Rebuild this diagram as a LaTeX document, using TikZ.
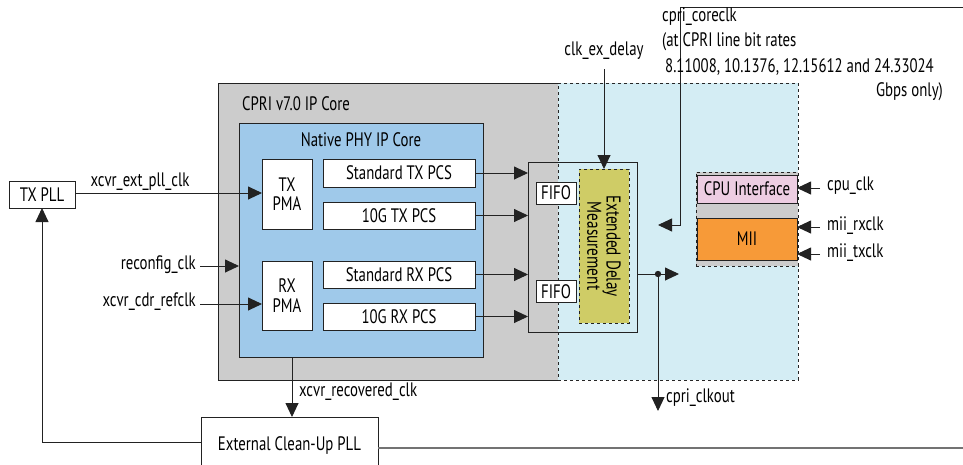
\documentclass[tikz,border=0pt]{standalone}
\usepackage{fontspec}
\setmainfont{PT Sans}[FakeStretch=0.76]
\usetikzlibrary{arrows.meta}
\definecolor{coregray}{HTML}{CCCCCC}
\definecolor{phyblue}{HTML}{9FC9EA}
\definecolor{lightblue}{HTML}{D4EDF4}
\definecolor{edmyellow}{HTML}{CFCC66}
\definecolor{cpupink}{HTML}{EDCDE2}
\definecolor{miiorange}{HTML}{F79A38}
\definecolor{linec}{HTML}{222222}
\begin{document}
\begin{tikzpicture}[x=1pt,y=-1pt,
  font=\fontsize{19.5}{19.5}\selectfont,
  box/.style={draw=linec, line width=0.9pt, inner sep=0pt, outer sep=0pt, align=center},
  lbl/.style={inner sep=1pt},
  arr/.style={-{Triangle[length=14pt,width=13pt]}, line width=0.9pt, draw=linec},
  ln/.style={line width=0.9pt, draw=linec}]
\useasboundingbox (0,0) rectangle (963,464);
% containers
\node[box, fill=coregray, minimum width=340, minimum height=297] (core) at (388,231.5) {};
\node[box, fill=lightblue, dashed, draw=black!85, minimum width=240, minimum height=297] (dom) at (678,231.5) {};
\node[anchor=west, lbl] (coret) at (241,104) {CPRI v7.0 IP Core};
\node[box, fill=phyblue, minimum width=244, minimum height=234] (phy) at (361,240) {};
\node[lbl] (phyt) at (361,140) {Native PHY IP Core};
% PMA and PCS
\node[box, fill=white, minimum width=50, minimum height=70] (txpma) at (287,194) {TX\\PMA};
\node[box, fill=white, minimum width=50, minimum height=69] (rxpma) at (287,295.5) {RX\\PMA};
\node[box, fill=white, minimum width=152, minimum height=28] (stdtx) at (399,173) {Standard TX PCS};
\node[box, fill=white, minimum width=152, minimum height=27] (tentx) at (399,215.5) {10G TX PCS};
\node[box, fill=white, minimum width=152, minimum height=27] (stdrx) at (399,274.5) {Standard RX PCS};
\node[box, fill=white, minimum width=152, minimum height=27] (tenrx) at (399,316.5) {10G RX PCS};
% FIFO / delay block
\node[box, minimum width=109, minimum height=170] (fifobox) at (582.5,247) {};
\node[box, fill=white, minimum width=40, minimum height=22] (fifoa) at (556,193) {FIFO};
\node[box, fill=white, minimum width=40, minimum height=22] (fifob) at (556,291.5) {FIFO};
\node[box, fill=edmyellow, dashed, minimum width=50, minimum height=154] (edm) at (604,246) {};
\node[rotate=-90, align=center, font=\fontsize{20}{18}\selectfont] (edmt) at (604,246) {Extended Delay\\Measurement};
% CPU / MII
\node[box, fill=coregray, dashed, minimum width=102, minimum height=94] (grp) at (747,219) {};
\node[box, fill=cpupink, minimum width=100, minimum height=28] (cpu) at (747,189) {CPU Interface};
\node[box, fill=miiorange, minimum width=100, minimum height=42] (mii) at (747,239) {MII};
% external
\node[box, fill=white, minimum width=66, minimum height=27] (txpll) at (42,194.5) {TX PLL};
\node[box, fill=white, minimum width=177, minimum height=56] (ecpll) at (289.5,445) {External Clean-Up PLL};
% coordinates
\coordinate (recfg) at (200,266);
\coordinate (cdr) at (200,304);
\coordinate (exd) at (604,69);
\coordinate (crtop) at (963,7);
\coordinate (crc) at (680,7);
\coordinate (crb) at (680,225);
\coordinate (crtip) at (658,225);
\coordinate (outtip) at (679,274);
\coordinate (dot) at (658,274);
\coordinate (clkout) at (658,411);
\coordinate (cpuc) at (820,188);
\coordinate (rxc) at (820,227);
\coordinate (txc) at (820,254);
\coordinate (fbk) at (42,442);
\coordinate (ecr) at (963,448);
% connectors
\draw[arr] (txpll.east |- 0,193) -- (txpma.west |- 0,193);
\draw[arr] (recfg) -- (phy.west |- recfg);
\draw[arr] (cdr) -- (rxpma.west |- cdr);
\draw[arr] (stdtx.east) -- (fifobox.west |- stdtx.east);
\draw[arr] (tentx.east) -- (fifobox.west |- tentx.east);
\draw[arr] (stdrx.east) -- (fifobox.west |- stdrx.east);
\draw[arr] (tenrx.east) -- (fifobox.west |- tenrx.east);
\draw[arr] (exd) -- (edm.north);
\draw[arr] (crtop) -- (crc) -- (crb) -- (crtip);
\draw[arr] (fifobox.east |- outtip) -- (outtip);
\fill[linec] (dot) circle (3.2);
\draw[arr] (dot) -- (clkout);
\draw[arr] (cpuc) -- (cpu.east |- cpuc);
\draw[arr] (rxc) -- (mii.east |- rxc);
\draw[arr] (txc) -- (mii.east |- txc);
\draw[arr] (phy.south -| 292,0) -- (ecpll.north -| 292,0);
\draw[arr] (ecpll.west |- fbk) -- (fbk) -- (txpll.south);
\draw[line width=1.6pt, draw=black!55] (ecpll.east |- ecr) -- (ecr);
% labels
\node[lbl] (l1) at (140,182) {xcvr\_ext\_pll\_clk};
\node[lbl, anchor=east] (l2) at (197,265) {reconfig\_clk};
\node[lbl, anchor=east] (l3) at (197,302) {xcvr\_cdr\_refclk};
\node[lbl] (l4) at (604,51) {clk\_ex\_delay};
\node[lbl, anchor=west] (l5) at (298,392) {xcvr\_recovered\_clk};
\node[lbl, anchor=west] (l6) at (665,398) {cpri\_clkout};
\node[lbl, anchor=west] (l7) at (826,186) {cpu\_clk};
\node[lbl, anchor=west] (l8) at (826,226) {mii\_rxclk};
\node[lbl, anchor=west] (l9) at (826,253) {mii\_txclk};
\node[lbl, anchor=west] (c1) at (661,17) {cpri\_coreclk};
\node[lbl, anchor=west] (c2) at (661,42) {(at CPRI line bit rates};
\node[lbl, anchor=west] (c3) at (664,67) {8.11008, 10.1376, 12.15612 and 24.33024};
\node[lbl, anchor=east] (c4) at (944,92) {Gbps only)};
\end{tikzpicture}
\end{document}
